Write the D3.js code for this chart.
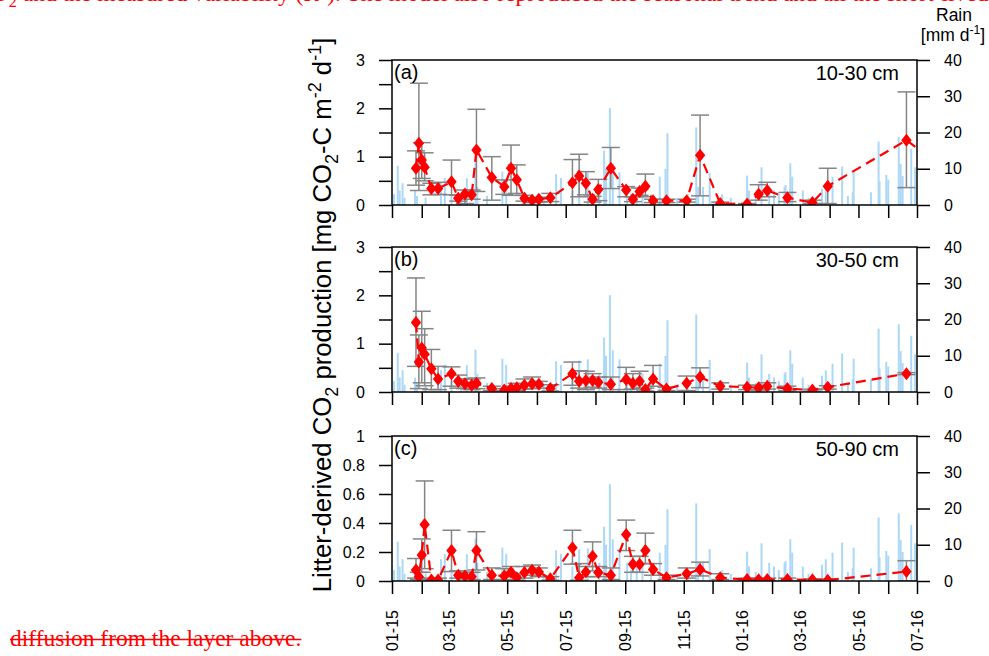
<!DOCTYPE html>
<html>
<head>
<meta charset="utf-8">
<script src="https://cdn.jsdelivr.net/npm/d3@7"></script>
<style>
  body { margin: 0; background: #fff; }
  svg { display: block; }
  text { font-family: "Liberation Sans", Arial, Helvetica, sans-serif; }
  .prose { font-family: "Liberation Serif", "Times New Roman", serif; fill: #ff0000; }
</style>
</head>
<body>
<div id="chart"></div>
<script>
// sampling campaigns (shared by all three depth layers)
const sampleDates = [
  '2015-01-26', '2015-01-29', '2015-02-01', '2015-02-04', '2015-02-11', '2015-02-18',
  '2015-03-04', '2015-03-11', '2015-03-18', '2015-03-25', '2015-03-30', '2015-04-15',
  '2015-04-28', '2015-05-05', '2015-05-11', '2015-05-19', '2015-05-27', '2015-06-03',
  '2015-06-15', '2015-07-08', '2015-07-15', '2015-07-22', '2015-07-29', '2015-08-04',
  '2015-08-17', '2015-09-02', '2015-09-09', '2015-09-16', '2015-09-22', '2015-09-30',
  '2015-10-14', '2015-11-04', '2015-11-18', '2015-12-09', '2016-01-06', '2016-01-18',
  '2016-01-27', '2016-02-17', '2016-03-14', '2016-03-30', '2016-06-20', '2016-07-10'
];

// litter-derived CO2 production, mg CO2-C m-2 d-1, with upper / lower error limits
const prod1030 = [0.76, 1.28, 0.93, 0.78, 0.34, 0.34, 0.48, 0.14, 0.23, 0.21, 1.14, 0.57, 0.38, 0.76, 0.52, 0.14, 0.10, 0.12, 0.15, 0.46, 0.60, 0.45, 0.12, 0.32, 0.76, 0.31, 0.12, 0.28, 0.39, 0.09, 0.09, 0.09, 1.03, 0.03, 0.02, 0.22, 0.30, 0.15, 0.05, 0.39, 1.34, 1.04];
const hi1030 = [1.12, 2.52, 1.29, 1.08, 0.45, 0.47, 0.93, 0.20, 0.31, 0.31, 1.98, 1.00, 0.52, 1.24, 0.83, 0.20, 0.15, 0.16, 0.24, 0.94, 1.05, 0.69, 0.18, 0.53, 1.19, 0.38, 0.17, 0.35, 0.64, 0.12, 0.12, 0.12, 1.86, 0.06, 0.03, 0.42, 0.47, 0.26, 0.10, 0.76, 2.34, null];
const lo1030 = [0.41, 0.30, 0.55, 0.50, 0.21, 0.22, 0.21, 0.08, 0.03, 0.12, 0.28, 0.10, 0.22, 0.20, 0.24, 0.08, 0.05, 0.06, 0.07, 0.00, 0.17, 0.21, 0.06, 0.09, 0.34, 0.17, 0.07, 0.20, 0.17, 0.05, 0.05, 0.06, 0.19, 0.01, 0.00, 0.10, 0.17, 0.07, 0.03, 0.03, 0.36, null];

const prod3050 = [1.44, 0.62, 0.91, 0.78, 0.48, 0.27, 0.38, 0.22, 0.17, 0.14, 0.18, 0.07, 0.04, 0.07, 0.09, 0.14, 0.17, 0.16, 0.07, 0.38, 0.22, 0.24, 0.24, 0.20, 0.16, 0.26, 0.18, 0.22, 0.05, 0.27, 0.06, 0.18, 0.31, 0.12, 0.10, 0.09, 0.12, 0.07, 0.04, 0.10, 0.38, null];
const hi3050 = [2.36, 1.18, 1.67, 1.31, 0.88, 0.53, 0.52, 0.35, 0.27, 0.27, 0.29, 0.12, 0.07, 0.12, 0.18, 0.27, 0.31, 0.22, 0.15, 0.62, 0.44, 0.43, 0.38, 0.31, 0.31, 0.51, 0.38, 0.43, 0.08, 0.55, 0.10, 0.33, 0.50, 0.19, 0.14, 0.14, 0.19, 0.12, 0.06, 0.13, 0.40, null];
const lo3050 = [0.53, 0.07, 0.19, 0.13, 0.05, 0.05, 0.12, 0.08, 0.07, 0.05, 0.07, 0.03, 0.02, 0.03, 0.03, 0.06, 0.07, 0.08, 0.02, 0.14, 0.08, 0.05, 0.10, 0.08, 0.05, 0.05, 0.06, 0.08, 0.02, 0.12, 0.03, 0.03, 0.09, 0.06, 0.05, 0.04, 0.06, 0.03, 0.02, 0.06, 0.36, null];

const prod5090 = [0.076, 0.03, 0.18, 0.39, 0.007, 0.007, 0.21, 0.04, 0.035, 0.03, 0.21, 0.04, 0.035, 0.06, 0.023, 0.058, 0.074, 0.062, 0.016, 0.23, 0.023, 0.062, 0.17, 0.058, 0.04, 0.32, 0.116, 0.116, 0.21, 0.08, 0.023, 0.05, 0.08, 0.023, 0.01, 0.008, 0.01, 0.01, 0.008, 0.006, 0.065, null];
const hi5090 = [0.155, 0.06, 0.29, 0.69, 0.02, 0.02, 0.35, 0.07, 0.06, 0.06, 0.34, 0.09, 0.085, 0.10, 0.05, 0.10, 0.11, 0.09, 0.03, 0.35, 0.12, 0.10, 0.27, 0.10, 0.09, 0.42, 0.17, 0.17, 0.33, 0.12, 0.04, 0.09, 0.13, 0.05, 0.02, 0.02, 0.02, 0.02, 0.015, 0.015, 0.14, null];
const lo5090 = [0.02, 0.01, 0.06, 0.085, 0, 0, 0.065, 0.02, 0.015, 0.01, 0.076, 0.01, 0.01, 0.03, 0.005, 0.02, 0.04, 0.03, 0.005, 0.116, 0.005, 0.03, 0.07, 0.03, 0.01, 0.21, 0.06, 0.06, 0.12, 0.04, 0.01, 0.02, 0.035, 0.01, 0, 0, 0, 0, 0, 0, 0, null];

// daily rainfall, mm d-1 (days without rain left out)
const rainDates = [
  '2015-01-03', '2015-01-07', '2015-01-09', '2015-01-12', '2015-01-14', '2015-01-25', '2015-01-27',
  '2015-02-05', '2015-02-21', '2015-02-25', '2015-03-04', '2015-03-14', '2015-03-20', '2015-03-29',
  '2015-03-31', '2015-04-10', '2015-04-26', '2015-04-30', '2015-05-17', '2015-06-08', '2015-06-21',
  '2015-06-26', '2015-07-08', '2015-07-15', '2015-07-24', '2015-08-05', '2015-08-10', '2015-08-12',
  '2015-08-16', '2015-08-19', '2015-08-26', '2015-09-03', '2015-09-07', '2015-09-13', '2015-09-19',
  '2015-09-28', '2015-10-07', '2015-10-13', '2015-10-15', '2015-10-25', '2015-11-05', '2015-11-14',
  '2015-11-16', '2015-11-21', '2015-11-28', '2015-12-11', '2015-12-20', '2016-01-06', '2016-01-08',
  '2016-01-15', '2016-01-21', '2016-01-29', '2016-02-03', '2016-02-08', '2016-02-14', '2016-02-15',
  '2016-02-20', '2016-02-22', '2016-03-04', '2016-03-10', '2016-03-24', '2016-03-28', '2016-04-04',
  '2016-04-14', '2016-04-20', '2016-04-25', '2016-04-26', '2016-05-14', '2016-05-22', '2016-05-23',
  '2016-05-30', '2016-06-01', '2016-06-12', '2016-06-14', '2016-06-16', '2016-06-25', '2016-06-29'
];
const rainMm = [
  3, 10.8, 4, 6, 2, 4, 2.5,
  2, 6, 7.5, 3, 3, 7.4, 11.7,
  5, 2.5, 9.2, 7.5, 3, 2, 8.5,
  7.5, 4, 8.7, 9, 5, 15, 10,
  26.7, 11.5, 9, 5, 3, 4, 5,
  3, 7.8, 10, 19.8, 2, 3, 21.4,
  5, 5, 8.8, 3, 2, 8.1, 4,
  2.5, 10.4, 5, 4, 3, 5, 5.5,
  11.5, 7.8, 4, 2, 4.5, 6, 7.8,
  10.6, 2.5, 3.5, 9.2, 3.5, 17.5, 6.5,
  8.3, 7, 18.7, 11.3, 8, 15.5, 10.4
];

const depthLabels = ['10-30 cm', '30-50 cm', '50-90 cm'];
const panelTags = ['(a)', '(b)', '(c)'];
const prodMax = [3, 3, 1];
const prodTicks = [
  [0, 0.5, 1, 1.5, 2, 2.5, 3],
  [0, 0.5, 1, 1.5, 2, 2.5, 3],
  [0, 0.2, 0.4, 0.6, 0.8, 1]
];
const rainTicks = [0, 10, 20, 30, 40];

const parse = d3.timeParse('%Y-%m-%d');
const W = 989, H = 656;
const left = 392, right = 917;
const panelTops = [60, 247, 436];
const panelH = 145;
const tick = 13;

const svg = d3.select('#chart').append('svg')
  .attr('width', W)
  .attr('height', H);

const x = d3.scaleTime()
  .domain([new Date(2015, 0, 1), new Date(2016, 6, 1)])
  .range([left, right]);

const months = d3.timeMonth.range(new Date(2015, 0, 1), new Date(2016, 6, 2));
const monthFmt = d3.timeFormat('%m-%y');

const rain = rainDates.map((d, i) => ({ date: parse(d), mm: rainMm[i] }));

const series = [
  [prod1030, hi1030, lo1030],
  [prod3050, hi3050, lo3050],
  [prod5090, hi5090, lo5090]
].map(([v, hi, lo]) => sampleDates
  .map((d, i) => ({ date: parse(d), v: v[i], hi: hi[i], lo: lo[i] }))
  .filter(p => p.v != null));

const diamond = 'M0,-6.5L5.2,0L0,6.5L-5.2,0Z';

series.forEach((data, k) => {
  const top = panelTops[k];
  const bottom = top + panelH;

  const y = d3.scaleLinear().domain([0, prodMax[k]]).range([bottom, top]);
  const yRain = d3.scaleLinear().domain([0, 40]).range([bottom, top]);

  svg.append('clipPath')
    .attr('id', 'clip' + k)
    .append('rect')
    .attr('x', left)
    .attr('y', top)
    .attr('width', right - left)
    .attr('height', panelH);

  const plot = svg.append('g').attr('clip-path', `url(#clip${k})`);

  // rain bars
  plot.selectAll('.rain')
    .data(rain)
    .enter()
    .append('rect')
    .attr('x', d => x(d.date) - 1)
    .attr('y', d => yRain(d.mm))
    .attr('width', 2)
    .attr('height', d => bottom - yRain(d.mm))
    .attr('fill', '#acd8f6');

  // error bars
  const errs = data.filter(d => d.hi != null);
  const eb = plot.selectAll('.err')
    .data(errs)
    .enter()
    .append('g')
    .attr('stroke', '#858585')
    .attr('stroke-width', 1.5);
  eb.append('line')
    .attr('x1', d => x(d.date)).attr('x2', d => x(d.date))
    .attr('y1', d => y(d.lo)).attr('y2', d => y(d.hi));
  eb.append('line')
    .attr('x1', d => x(d.date) - 9).attr('x2', d => x(d.date) + 9)
    .attr('y1', d => y(d.hi)).attr('y2', d => y(d.hi));
  eb.append('line')
    .attr('x1', d => x(d.date) - 9).attr('x2', d => x(d.date) + 9)
    .attr('y1', d => y(d.lo)).attr('y2', d => y(d.lo));

  // production series
  plot.append('path')
    .datum(data)
    .attr('fill', 'none')
    .attr('stroke', '#ff0000')
    .attr('stroke-width', 2.2)
    .attr('stroke-dasharray', '10,6')
    .attr('d', d3.line().x(d => x(d.date)).y(d => y(d.v)));

  plot.selectAll('.pt')
    .data(data)
    .enter()
    .append('path')
    .attr('d', diamond)
    .attr('transform', d => `translate(${x(d.date)},${y(d.v)})`)
    .attr('fill', '#ff0000');

  // frame
  svg.append('rect')
    .attr('x', left)
    .attr('y', top)
    .attr('width', right - left)
    .attr('height', panelH)
    .attr('fill', 'none')
    .attr('stroke', '#000')
    .attr('stroke-width', 1.5);

  const fmtLeft = k < 2 ? (d => Number.isInteger(d) ? d : '') : (d => d === 0 || d === 1 ? d : d.toFixed(1));

  const gl = svg.append('g')
    .attr('transform', `translate(${left},0)`)
    .call(d3.axisLeft(y).tickValues(prodTicks[k]).tickSize(tick).tickPadding(14).tickFormat(fmtLeft));

  const gr = svg.append('g')
    .attr('transform', `translate(${right},0)`)
    .call(d3.axisRight(yRain).tickValues(rainTicks).tickSize(tick).tickPadding(14));

  const gb = svg.append('g')
    .attr('transform', `translate(0,${bottom})`)
    .call(d3.axisBottom(x).tickValues(months).tickSize(tick)
      .tickFormat((d, i) => (k === 2 && i % 2 === 0) ? monthFmt(d) : ''));

  [gl, gr, gb].forEach(g => {
    g.select('.domain').remove();
    g.selectAll('line').attr('stroke', '#000').attr('stroke-width', 1.5);
    g.selectAll('text').style('font-size', '16px').attr('fill', '#000');
  });

  gb.selectAll('text')
    .attr('transform', 'rotate(-90)')
    .attr('x', -29)
    .attr('y', 0)
    .attr('dy', '0.35em')
    .style('text-anchor', 'end');

  svg.append('text')
    .attr('x', left + 2)
    .attr('y', top + 19)
    .style('font-size', '20px')
    .text(panelTags[k]);

  svg.append('text')
    .attr('x', 899)
    .attr('y', top + 20)
    .attr('text-anchor', 'end')
    .style('font-size', '20px')
    .text(depthLabels[k]);
});

// text with sub- and superscripts, shifts in px
function richText(sel, parts, size) {
  let cur = 0;
  parts.forEach(([str, kind]) => {
    const shift = kind === 'sub' ? size * 0.28 : kind === 'sup' ? -size * 0.38 : 0;
    sel.append('tspan')
      .attr('dy', shift - cur)
      .style('font-size', (kind ? size * 0.7 : size) + 'px')
      .text(str);
    cur = shift;
  });
}

const yTitle = svg.append('text')
  .attr('transform', 'translate(331,315) rotate(-90)')
  .attr('text-anchor', 'middle')
  .attr('fill', '#000');
richText(yTitle, [
  ['Litter-derived CO'], ['2', 'sub'], [' production [mg CO'], ['2', 'sub'],
  ['-C m'], ['-2', 'sup'], [' d'], ['-1', 'sup'], [']']
], 25.7);

svg.append('text')
  .attr('x', 954)
  .attr('y', 21)
  .attr('text-anchor', 'middle')
  .style('font-size', '17.5px')
  .text('Rain');

const rainUnit = svg.append('text')
  .attr('x', 953)
  .attr('y', 41)
  .attr('text-anchor', 'middle');
richText(rainUnit, [['[mm d'], ['-1', 'sup'], [']']], 17.5);

// running text of the page around the figure
const above = svg.append('text')
  .attr('class', 'prose')
  .attr('x', -24)
  .attr('y', 0.5);
richText(above, [
  ['CO'], ['2', 'sub'], [' and the measured variability (R'], ['2', 'sup'],
  ['). The model also reproduced the seasonal trend and all the short-lived gas pulses after rain events.']
], 23.5);

const below = svg.append('text')
  .attr('class', 'prose')
  .attr('x', 10)
  .attr('y', 646)
  .style('font-size', '23.5px')
  .text('diffusion from the layer above.');
const belowLen = below.node().getComputedTextLength();
svg.append('line')
  .attr('x1', 10).attr('x2', 10 + belowLen)
  .attr('y1', 639.5).attr('y2', 639.5)
  .attr('stroke', '#ff0000')
  .attr('stroke-width', 1.3);
</script>
</body>
</html>
